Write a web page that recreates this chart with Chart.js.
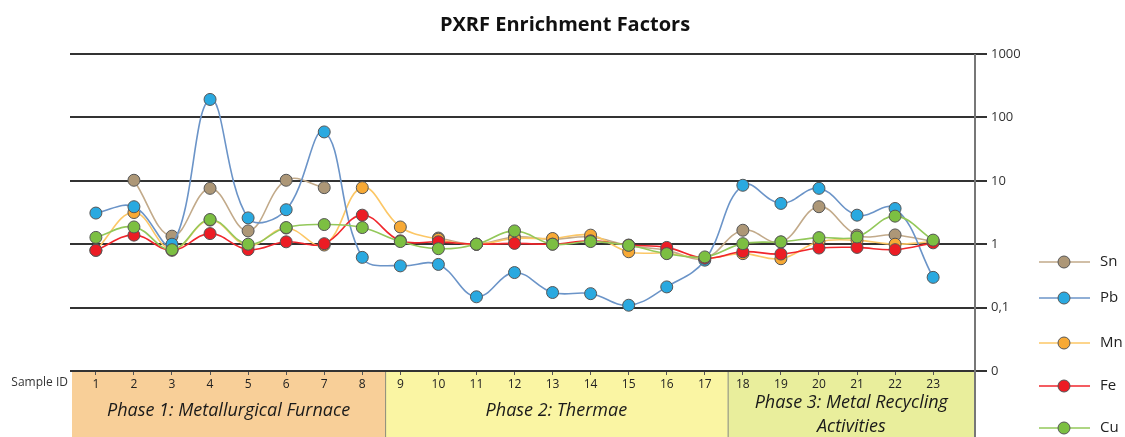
<!DOCTYPE html>
<html>
<head>
<meta charset="utf-8">
<script src="https://cdn.jsdelivr.net/npm/chart.js@4"></script>
<style>
    html, body { margin: 0; padding: 0; background: #fff; }
    #wrap { width: 1125px; height: 437px; position: relative; }
</style>
</head>
<body>
<div id="wrap"><canvas id="efChart"></canvas></div>
<script>
// Sample IDs along the bottom axis
const sampleIds = [1, 2, 3, 4, 5, 6, 7, 8, 9, 10, 11, 12, 13, 14, 15, 16, 17, 18, 19, 20, 21, 22, 23];

// Enrichment factors per element (null = no value)
const snValues = [null, 10.2, 1.34, 7.6, 1.62, 10.2, 7.8, null, null, 1.25, 1.0, 1.3, 1.2, 1.3, 0.95, 0.8, 0.6, 1.66, 1.08, 3.9, 1.39, 1.4, 1.1];
const pbValues = [3.1, 3.9, 1.0, 192, 2.6, 3.5, 59, 0.62, 0.455, 0.48, 0.148, 0.357, 0.173, 0.166, 0.109, 0.212, 0.56, 8.5, 4.4, 7.6, 2.87, 3.66, 0.30];
const mnValues = [0.8, 3.16, 0.82, 2.4, 0.95, 1.8, 0.97, 7.8, 1.87, 1.2, 1.0, 1.23, 1.23, 1.39, 0.76, 0.72, 0.6, 0.71, 0.59, 1.09, 1.15, 1.0, 1.1];
const feValues = [0.8, 1.39, 0.8, 1.47, 0.82, 1.09, 1.02, 2.87, 1.13, 1.09, 1.0, 1.03, 1.0, 1.13, 0.97, 0.89, 0.6, 0.76, 0.70, 0.87, 0.89, 0.82, 1.05];
const cuValues = [1.28, 1.87, 0.82, 2.45, 1.0, 1.83, 2.04, 1.83, 1.1, 0.85, 1.0, 1.62, 1.0, 1.1, 0.96, 0.71, 0.63, 1.02, 1.09, 1.27, 1.3, 2.77, 1.16];

// Log axis ticks and their printed labels
const yTickValues = [0.01, 0.1, 1, 10, 100, 1000];
const yTickLabels = ['0', '0,1', '1', '10', '100', '1000'];

// Site phases: label lines, first and last sample
const phaseLabels = [
    ['Phase 1: Metallurgical Furnace'],
    ['Phase 2: Thermae'],
    ['Phase 3: Metal Recycling', 'Activities']
];
const phaseRanges = [[1, 8], [9, 17], [18, 23]];
const phaseColors = ['#f8cf98', '#faf5a3', '#e9ee9c'];

const FONT = '"Open Sans", "Noto Sans", sans-serif';

// draw order: lower "order" ends up on top
const series = [
    { label: 'Sn', values: snValues, line: '#c2aa8a', fill: '#ad9777', order: 4 },
    { label: 'Pb', values: pbValues, line: '#6b94c8', fill: '#2aa9e0', order: 2 },
    { label: 'Mn', values: mnValues, line: '#fcc766', fill: '#f7a935', order: 3 },
    { label: 'Fe', values: feValues, line: '#f0262c', fill: '#ec1c24', order: 1 },
    { label: 'Cu', values: cuValues, line: '#93c85a', fill: '#7cbf42', order: 0 }
];

function toPoints(values) {
    return values.map((v, i) => ({ x: sampleIds[i], y: v }));
}

const datasets = series.map(s => ({
    label: s.label,
    data: toPoints(s.values),
    order: s.order,
    borderColor: s.line,
    backgroundColor: s.fill,
    borderWidth: 1.6,
    tension: 0.4,
    pointRadius: 6,
    pointBorderColor: '#555',
    pointBorderWidth: 1,
    pointBackgroundColor: s.fill
}));

// Phase boxes under the axis, drawn before the ticks
const phaseBoxes = {
    id: 'phaseBoxes',
    beforeDraw(chart) {
        const { ctx, chartArea, scales: { x } } = chart;
        const top = chartArea.bottom;
        const bottom = chart.height;
        ctx.save();
        phaseRanges.forEach((r, i) => {
            const left = i === 0 ? chartArea.left + 2 : x.getPixelForValue(r[0] - 0.4);
            const right = i === phaseRanges.length - 1 ? chartArea.right : x.getPixelForValue(r[1] + 0.6);
            ctx.fillStyle = phaseColors[i];
            ctx.fillRect(left, top, right - left, bottom - top);
            if (i > 0) {
                ctx.strokeStyle = '#8a8a7a';
                ctx.lineWidth = 1;
                ctx.beginPath();
                ctx.moveTo(left + 0.5, top);
                ctx.lineTo(left + 0.5, bottom);
                ctx.stroke();
            }
            const cx = (left + right) / 2;
            const lines = phaseLabels[i];
            ctx.fillStyle = '#1a1a1a';
            ctx.font = 'italic 18px ' + FONT;
            ctx.textAlign = 'center';
            ctx.textBaseline = 'middle';
            const startY = lines.length === 1 ? top + 40 : top + 32;
            lines.forEach((t, k) => ctx.fillText(t, cx, startY + k * 24));
        });
        ctx.restore();
    },
    afterDraw(chart) {
        const { ctx, chartArea } = chart;
        ctx.save();
        // title
        ctx.fillStyle = '#111';
        ctx.font = 'bold 20px ' + FONT;
        ctx.textAlign = 'center';
        ctx.textBaseline = 'middle';
        ctx.fillText('PXRF Enrichment Factors', 565, 25);

        // right axis runs down through the phase box
        ctx.strokeStyle = '#777';
        ctx.lineWidth = 2;
        ctx.beginPath();
        ctx.moveTo(chartArea.right, chartArea.top);
        ctx.lineTo(chartArea.right, chart.height);
        ctx.stroke();

        ctx.fillStyle = '#333';
        ctx.font = '12px ' + FONT;
        ctx.textAlign = 'right';
        ctx.fillText('Sample ID', 68, 383);

        // legend
        const legendY = [262, 298, 343, 386, 428];
        series.forEach((s, i) => {
            const y = legendY[i];
            ctx.strokeStyle = s.line;
            ctx.lineWidth = 1.6;
            ctx.beginPath();
            ctx.moveTo(1039, y);
            ctx.lineTo(1090, y);
            ctx.stroke();
            ctx.beginPath();
            ctx.arc(1064, y, 6, 0, Math.PI * 2);
            ctx.fillStyle = s.fill;
            ctx.fill();
            ctx.strokeStyle = '#555';
            ctx.lineWidth = 1;
            ctx.stroke();
            ctx.fillStyle = '#222';
            ctx.font = '15px ' + FONT;
            ctx.textAlign = 'left';
            ctx.fillText(s.label, 1100, y);
        });
        ctx.restore();
    }
};

new Chart(document.getElementById('efChart'), {
    type: 'line',
    data: { datasets: datasets },
    options: {
        responsive: true,
        maintainAspectRatio: false,
        animation: false,
        layout: { padding: { top: 54, left: 70, right: 0, bottom: 0 } },
        plugins: {
            legend: { display: false },
            title: { display: false },
            tooltip: { enabled: false }
        },
        scales: {
            x: {
                type: 'linear',
                min: 0.32,
                max: 24.1,
                afterBuildTicks: scale => { scale.ticks = sampleIds.map(v => ({ value: v })); },
                afterFit: scale => { scale.height = 66; },
                border: { display: false },
                grid: { drawOnChartArea: false, drawTicks: true, tickLength: 4, color: '#555' },
                ticks: {
                    color: '#222',
                    font: { size: 12, family: FONT },
                    padding: 2,
                    maxRotation: 0,
                    autoSkip: false
                }
            },
            y: {
                type: 'logarithmic',
                position: 'right',
                min: 0.01,
                max: 1000,
                afterBuildTicks: scale => { scale.ticks = yTickValues.map(v => ({ value: v })); },
                afterFit: scale => { scale.width = 150; },
                border: { display: false },
                grid: { color: '#333', lineWidth: 2, tickLength: 12, drawTicks: true },
                ticks: {
                    color: '#333',
                    font: { size: 13, family: FONT },
                    padding: 4,
                    callback: function(value) {
                        const i = yTickValues.indexOf(value);
                        return i >= 0 ? yTickLabels[i] : '';
                    }
                }
            }
        }
    },
    plugins: [phaseBoxes]
});
</script>
</body>
</html>
